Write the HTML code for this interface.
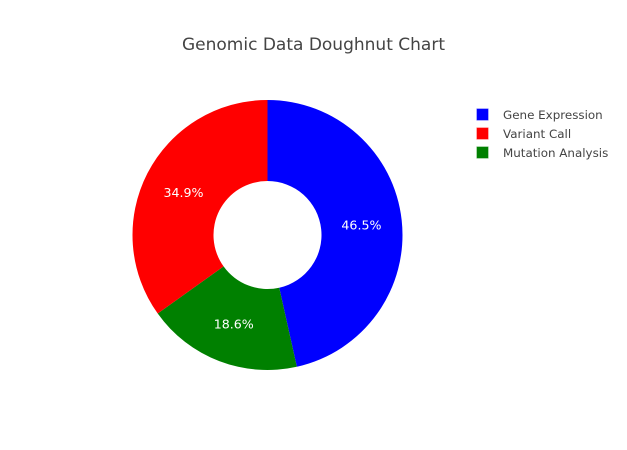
<!DOCTYPE html>
<html>
<head>
<meta charset="utf-8">
<style>
html,body{margin:0;padding:0;background:#fff;}
svg{display:block;font-family:"DejaVu Sans",Verdana,sans-serif;}
</style>
</head>
<body>
<svg id="chart" width="627" height="450" viewBox="0 0 627 450" xmlns="http://www.w3.org/2000/svg">
<rect width="627" height="450" fill="#fff"/>
<text x="313.5" y="50" text-anchor="middle" font-size="17" fill="#444">Genomic Data Doughnut Chart</text>
<g id="slices"></g>
<g id="labels"></g>
<g id="legend"></g>
</svg>
<script>
const categories = ['Gene Expression', 'Variant Call', 'Mutation Analysis'];
const values = [20, 15, 8];
const colors = ['#0000ff', '#ff0000', '#008000'];
const sliceOrder = [0, 2, 1];

const NS = 'http://www.w3.org/2000/svg';
const cx = 267.5, cy = 235, outerR = 135, innerR = 54;
const total = values.reduce(function (a, b) { return a + b; }, 0);
function angleOf(v) { return v / total * Math.PI * 2; }
function px(r, a) { return cx + r * Math.sin(a); }
function py(r, a) { return cy - r * Math.cos(a); }
function slug(s) { return s.toLowerCase().replace(/\s+/g, '-'); }

const slicesG = document.getElementById('slices');
const labelsG = document.getElementById('labels');
const legendG = document.getElementById('legend');

let cursor = 0;
sliceOrder.forEach(function (i) {
  const sweep = angleOf(values[i]);
  const a0 = cursor, a1 = cursor + sweep;
  const large = sweep > Math.PI ? 1 : 0;
  const d = 'M' + px(outerR, a0) + ' ' + py(outerR, a0) +
    'A' + outerR + ' ' + outerR + ' 0 ' + large + ' 1 ' + px(outerR, a1) + ' ' + py(outerR, a1) +
    'L' + px(innerR, a1) + ' ' + py(innerR, a1) +
    'A' + innerR + ' ' + innerR + ' 0 ' + large + ' 0 ' + px(innerR, a0) + ' ' + py(innerR, a0) + 'Z';
  const path = document.createElementNS(NS, 'path');
  path.setAttribute('d', d);
  path.setAttribute('fill', colors[i]);
  
  
  slicesG.appendChild(path);

  const mid = (a0 + a1) / 2;
  const midR = (outerR + innerR) / 2;
  const label = document.createElementNS(NS, 'text');
  label.setAttribute('x', px(midR, mid));
  label.setAttribute('y', py(midR, mid) + 5);
  label.setAttribute('text-anchor', 'middle');
  label.setAttribute('font-size', '12.6');
  label.setAttribute('fill', '#fff');
  label.textContent = (values[i] / total * 100).toFixed(1) + '%';
  
  
  labelsG.appendChild(label);
  cursor = a1;
});

categories.forEach(function (name, i) {
  const y = 114.5 + i * 19;
  const item = document.createElementNS(NS, 'g');
  
  
  const sw = document.createElementNS(NS, 'rect');
  sw.setAttribute('x', 476.5);
  sw.setAttribute('y', y - 6);
  sw.setAttribute('width', 12);
  sw.setAttribute('height', 12);
  sw.setAttribute('fill', colors[i]);
  sw.setAttribute('stroke', '#fff');
  sw.setAttribute('stroke-opacity', '0.35');
  sw.setAttribute('stroke-width', '1');
  
  
  const tx = document.createElementNS(NS, 'text');
  tx.setAttribute('x', 503);
  tx.setAttribute('y', y + 4.5);
  tx.setAttribute('font-size', '11.9');
  tx.setAttribute('fill', '#444');
  tx.textContent = name;
  
  
  item.appendChild(sw);
  item.appendChild(tx);
  legendG.appendChild(item);
});
</script>
</body>
</html>
